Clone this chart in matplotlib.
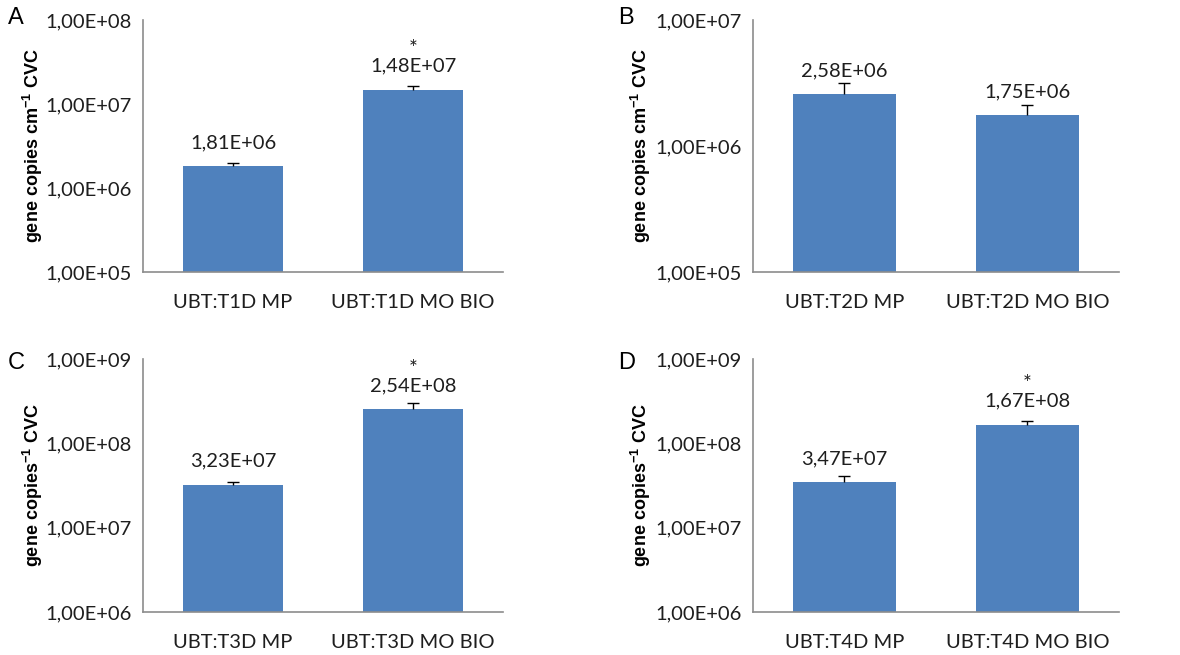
import numpy as np
import matplotlib
matplotlib.use('Agg')
import matplotlib.pyplot as plt
from matplotlib import ticker, rcParams

rcParams['mathtext.fontset'] = 'custom'
rcParams['mathtext.rm'] = 'Liberation Sans'
rcParams['mathtext.bf'] = 'Liberation Sans:bold'

# data
letters = ['A', 'B', 'C', 'D']
cats_A = ['UBT:T1D MP', 'UBT:T1D MO BIO']
cats_B = ['UBT:T2D MP', 'UBT:T2D MO BIO']
cats_C = ['UBT:T3D MP', 'UBT:T3D MO BIO']
cats_D = ['UBT:T4D MP', 'UBT:T4D MO BIO']
vals_A = [1.81e6, 1.48e7]
vals_B = [2.58e6, 1.75e6]
vals_C = [3.23e7, 2.54e8]
vals_D = [3.47e7, 1.67e8]
err_A = [1.6e5, 1.7e6]
err_B = [5.8e5, 3.5e5]
err_C = [2.7e6, 4.5e7]
err_D = [6.2e6, 1.9e7]
star_A = [False, True]
star_B = [False, False]
star_C = [False, True]
star_D = [False, True]
ylims = [(1e5, 1e8), (1e5, 1e7), (1e6, 1e9), (1e6, 1e9)]
ylabels = [r'gene copies cm$^{\mathbf{-1}}$ CVC',
           r'gene copies cm$^{\mathbf{-1}}$ CVC',
           r'gene copies$^{\mathbf{-1}}$ CVC',
           r'gene copies$^{\mathbf{-1}}$ CVC']

cats = [cats_A, cats_B, cats_C, cats_D]
vals = [vals_A, vals_B, vals_C, vals_D]
errs = [err_A, err_B, err_C, err_D]
stars = [star_A, star_B, star_C, star_D]

bar_color = '#4F81BD'
axis_color = '#8c8c8c'
txt_color = '#1e1e1e'
txt_font = 'Lato'
fs = 14.5


def excel_fmt(v, pos=None):
    return f"{v:.2E}".replace('.', ',')


fig = plt.figure(figsize=(11.8, 6.55), dpi=100)
# axes boxes in figure fractions (left, bottom, width, height)
boxes = [
    [0.1212, 0.5847, 0.3051, 0.3848],
    [0.6381, 0.5847, 0.3101, 0.3848],
    [0.1212, 0.0656, 0.3051, 0.3863],
    [0.6381, 0.0656, 0.3101, 0.3863],
]
# letter and ylabel positions (figure fractions)
letter_xy = [(0.0068, 0.9725), (0.5237, 0.9725), (0.0068, 0.446), (0.5237, 0.446)]
ylab_x = [0.028, 0.543, 0.028, 0.543]

for i in range(4):
    ax = fig.add_axes(boxes[i])
    x = np.arange(len(cats[i]))
    v = np.array(vals[i])
    e = np.array(errs[i])
    ax.bar(x, v, width=0.56, color=bar_color, zorder=2)
    # plus-only error bars with a single cap on top
    ax.errorbar(x, v, yerr=[np.zeros(len(e)), e], fmt='none',
                ecolor='black', elinewidth=1, capsize=0, zorder=3)
    ax.plot(x, v + e, ls='none', marker='_', ms=9, mew=1, color='black', zorder=3)
    ax.set_yscale('log')
    ax.set_ylim(*ylims[i])
    ax.set_xlim(-0.5, 1.5)
    ax.yaxis.set_major_locator(ticker.LogLocator(base=10, numticks=10))
    ax.yaxis.set_minor_locator(ticker.NullLocator())
    ax.yaxis.set_major_formatter(ticker.FuncFormatter(excel_fmt))
    ax.set_xticks(x)
    ax.set_xticklabels(cats[i], fontsize=fs, family=txt_font, color=txt_color)
    for lab in ax.get_yticklabels():
        lab.set_fontsize(fs)
        lab.set_family(txt_font)
        lab.set_color(txt_color)
    ax.tick_params(axis='both', length=0)
    ax.tick_params(axis='y', pad=8)
    ax.tick_params(axis='x', pad=16)
    for s in ['top', 'right']:
        ax.spines[s].set_visible(False)
    for s in ['left', 'bottom']:
        ax.spines[s].set_color(axis_color)
        ax.spines[s].set_linewidth(1.2)

    for j in range(len(v)):
        ax.annotate(excel_fmt(v[j]), (x[j], v[j]), xytext=(0, 17), textcoords='offset points',
                    ha='center', va='center', fontsize=fs, family=txt_font, color=txt_color)
        if stars[i][j]:
            ax.annotate('*', (x[j], v[j]), xytext=(0, 29), textcoords='offset points',
                        ha='center', va='center', fontsize=15, family=txt_font, color=txt_color)

    b = boxes[i]
    fig.text(ylab_x[i], b[1] + b[3] / 2, ylabels[i], rotation=90, ha='center', va='center',
             fontsize=13, fontweight='bold', family='Liberation Sans', color='black')
    fig.text(letter_xy[i][0], letter_xy[i][1], letters[i], fontsize=17,
             family='Liberation Sans', ha='left', va='center', color='black')

fig.savefig('out.png', dpi=100)
